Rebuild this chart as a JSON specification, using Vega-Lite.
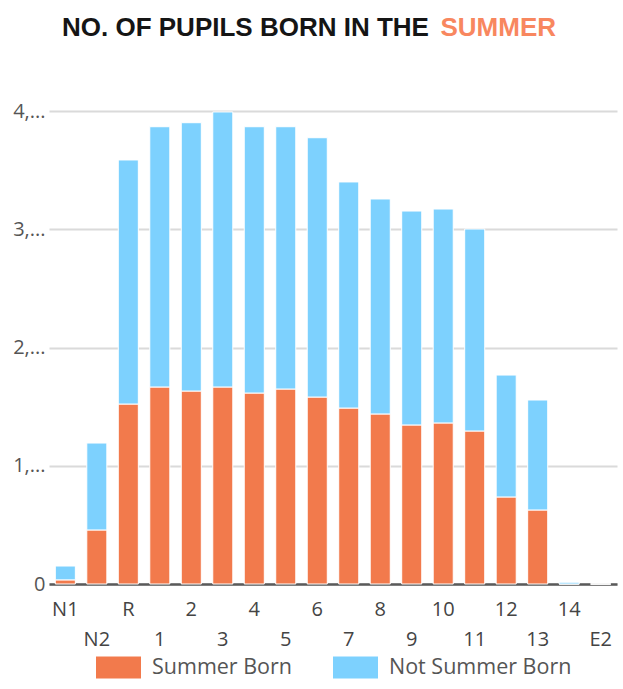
{
  "$schema": "https://vega.github.io/schema/vega-lite/v6.json",
  "autosize": "none",
  "width": 568,
  "height": 473,
  "padding": {"left": 49, "top": 111, "right": 6, "bottom": 105},
  "background": "white",
  "title": {
    "text": "NO. OF PUPILS BORN IN THE",
    "anchor": "start",
    "frame": "group",
    "dx": 13,
    "offset": -48,
    "baseline": "alphabetic",
    "font": "Liberation Sans",
    "fontSize": 26,
    "fontWeight": "bold",
    "color": "#151515"
  },
  "data": {
    "values": [
      {"year": "N1", "group": "Summer Born", "count": 35},
      {"year": "N1", "group": "Not Summer Born", "count": 117},
      {"year": "N2", "group": "Summer Born", "count": 457},
      {"year": "N2", "group": "Not Summer Born", "count": 735},
      {"year": "R", "group": "Summer Born", "count": 1522},
      {"year": "R", "group": "Not Summer Born", "count": 2064},
      {"year": "1", "group": "Summer Born", "count": 1666},
      {"year": "1", "group": "Not Summer Born", "count": 2201},
      {"year": "2", "group": "Summer Born", "count": 1632},
      {"year": "2", "group": "Not Summer Born", "count": 2269},
      {"year": "3", "group": "Summer Born", "count": 1666},
      {"year": "3", "group": "Not Summer Born", "count": 2326},
      {"year": "4", "group": "Summer Born", "count": 1615},
      {"year": "4", "group": "Not Summer Born", "count": 2252},
      {"year": "5", "group": "Summer Born", "count": 1649},
      {"year": "5", "group": "Not Summer Born", "count": 2218},
      {"year": "6", "group": "Summer Born", "count": 1581},
      {"year": "6", "group": "Not Summer Born", "count": 2193},
      {"year": "7", "group": "Summer Born", "count": 1488},
      {"year": "7", "group": "Not Summer Born", "count": 1912},
      {"year": "8", "group": "Summer Born", "count": 1438},
      {"year": "8", "group": "Not Summer Born", "count": 1818},
      {"year": "9", "group": "Summer Born", "count": 1345},
      {"year": "9", "group": "Not Summer Born", "count": 1809},
      {"year": "10", "group": "Summer Born", "count": 1362},
      {"year": "10", "group": "Not Summer Born", "count": 1809},
      {"year": "11", "group": "Summer Born", "count": 1294},
      {"year": "11", "group": "Not Summer Born", "count": 1708},
      {"year": "12", "group": "Summer Born", "count": 736},
      {"year": "12", "group": "Not Summer Born", "count": 1031},
      {"year": "13", "group": "Summer Born", "count": 626},
      {"year": "13", "group": "Not Summer Born", "count": 930},
      {"year": "14", "group": "Summer Born", "count": 0},
      {"year": "14", "group": "Not Summer Born", "count": 15},
      {"year": "E2", "group": "Summer Born", "count": 0},
      {"year": "E2", "group": "Not Summer Born", "count": 0}
    ]
  },
  "mark": {"type": "bar", "stroke": "white", "strokeWidth": 1},
  "encoding": {
    "x": {
      "field": "year",
      "type": "nominal",
      "sort": null,
      "scale": {"paddingInner": 0.363, "paddingOuter": 0.2},
      "axis": {
        "title": null,
        "labelAngle": 0,
        "ticks": false,
        "labelFont": "Open Sans",
        "labelFontSize": 20,
        "labelColor": "#444444",
        "labelBaseline": "top",
        "labelPadding": {
          "condition": {"test": "indexof(['N2','1','3','5','7','9','11','13','E2'], datum.value) >= 0", "value": 45},
          "value": 15
        },
        "domainColor": "#5a5a5a",
        "domainWidth": 2.5,
        "labelOverlap": false
      }
    },
    "y": {
      "field": "count",
      "type": "quantitative",
      "stack": "zero",
      "scale": {"domain": [0, 4000], "nice": false},
      "axis": {
        "title": "SUMMER",
        "titleAngle": 0,
        "titleAlign": "left",
        "titleBaseline": "alphabetic",
        "titleX": 391,
        "titleY": -76,
        "titleFont": "Liberation Sans",
        "titleFontSize": 26,
        "titleFontWeight": "bold",
        "titleColor": "#F8875F",
        "values": [0, 1000, 2000, 3000, 4000],
        "labelExpr": "datum.value == 0 ? '0' : format(datum.value / 1000, 'd') + ',...'",
        "domain": false,
        "ticks": false,
        "labelFont": "Open Sans",
        "labelFontSize": 20,
        "labelColor": "#555555",
        "labelPadding": 4,
        "gridColor": "#dadada",
        "gridWidth": 2
      }
    },
    "color": {
      "field": "group",
      "type": "nominal",
      "scale": {"domain": ["Summer Born", "Not Summer Born"], "range": ["#F27A4C", "#7DD1FE"]},
      "legend": {
        "title": null,
        "orient": "none",
        "legendX": 46,
        "legendY": 533,
        "direction": "horizontal",
        "symbolType": "M-1,-0.5H1V0.5H-1Z",
        "symbolSize": 2116,
        "symbolStrokeColor": "white",
        "symbolStrokeWidth": 1,
        "labelFont": "Open Sans",
        "labelFontSize": 21.5,
        "labelColor": "#555555",
        "labelOffset": 10,
        "labelLimit": 0,
        "columnPadding": 37
      }
    },
    "order": {"field": "group", "sort": "descending"}
  },
  "config": {"view": {"stroke": null}}
}
